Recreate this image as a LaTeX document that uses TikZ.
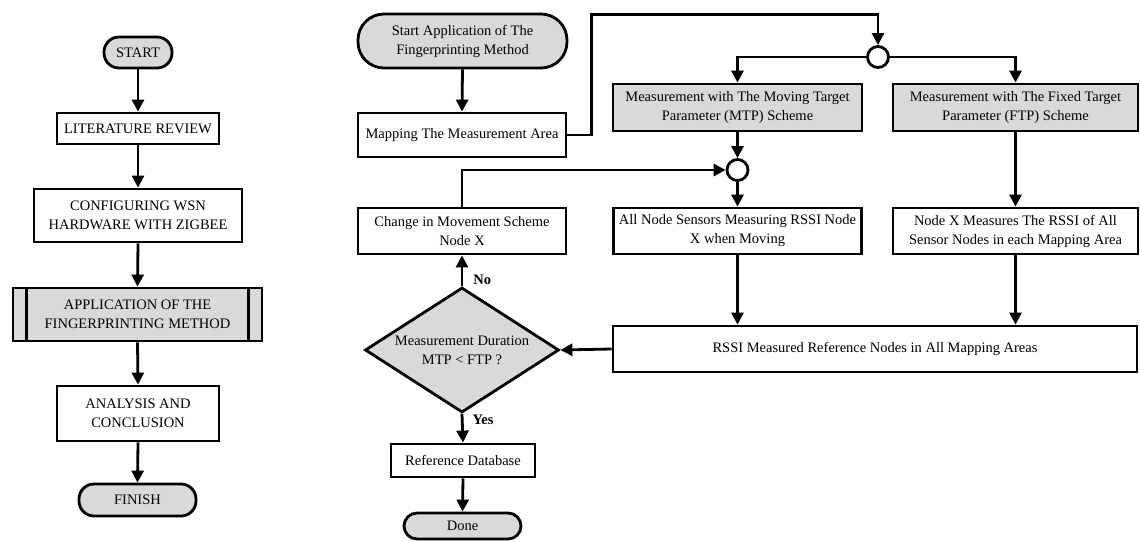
\documentclass[tikz,border=0pt]{standalone}
\usepackage{fontspec}
\setmainfont{Liberation Serif}
\usetikzlibrary{arrows.meta,shapes.geometric,calc}
\begin{document}
\begin{tikzpicture}[x=1pt,y=-1pt,
  every node/.style={font=\fontsize{14.5}{19}\selectfont, align=center, inner sep=0pt},
  proc/.style={draw, line width=2.8pt, fill=white, rectangle},
  procg/.style={proc, fill=gray!30},
  term/.style={draw, line width=2.8pt, fill=gray!30, rounded corners=15pt},
  junc/.style={draw, circle, line width=2.8pt, fill=white, minimum size=21pt},
  conn/.style={line width=2.8pt},
  flow/.style={line width=2.8pt, -{Triangle[length=12pt,width=12pt]}},
  lbl/.style={font=\fontsize{14.5}{17}\selectfont\bfseries}]
\useasboundingbox (0,0) rectangle (1140,541);
% left column
\node[term, minimum width=68pt, minimum height=31pt] (start) at (138,52.5) {START};
\node[proc, minimum width=162pt, minimum height=31pt] (lit) at (138,128.5) {LITERATURE REVIEW};
\node[proc, minimum width=208pt, minimum height=53pt] (conf) at (138,215.5) {CONFIGURING WSN\\HARDWARE WITH ZIGBEE};
\node[procg, minimum width=249pt, minimum height=53pt] (app) at (137.5,314.5) {APPLICATION OF THE\\FINGERPRINTING METHOD};
\draw[conn] ($(app.north west)+(15,0)$) -- ($(app.south west)+(15,0)$);
\draw[conn] ($(app.north east)+(-15,0)$) -- ($(app.south east)+(-15,0)$);
\node[proc, minimum width=162pt, minimum height=55pt] (anal) at (138,413.5) {ANALYSIS AND\\CONCLUSION};
\node[term, minimum width=117pt, minimum height=32pt] (finish) at (137.5,500) {FINISH};
\draw[flow] (start.south) -- (lit.north);
\draw[flow] (lit.south) -- (conf.north);
\draw[flow] (conf.south) -- (app.north);
\draw[flow] (app.south) -- (anal.north);
\draw[flow] (anal.south) -- (finish.north);
% right part
\node[term, rounded corners=26pt, minimum width=209pt, minimum height=54pt] (sa) at (462.5,41) {Start Application of The\\Fingerprinting Method};
\node[proc, minimum width=208pt, minimum height=44pt] (map) at (462,135) {Mapping The Measurement Area};
\node[junc] (j1) at (878,57) {};
\node[procg, minimum width=249pt, minimum height=47pt] (mtp) at (737.5,107.5) {Measurement with The Moving Target\\Parameter (MTP) Scheme};
\node[procg, minimum width=245pt, minimum height=47pt] (ftp) at (1015.5,107.5) {Measurement with The Fixed Target\\Parameter (FTP) Scheme};
\node[junc] (j2) at (737.5,170) {};
\node[proc, minimum width=208pt, minimum height=46pt] (chg) at (462,231) {Change in Movement Scheme\\Node X};
\node[proc, minimum width=248pt, minimum height=46pt] (alln) at (737.5,231) {All Node Sensors Measuring RSSI Node\\X when Moving};
\node[proc, minimum width=245pt, minimum height=46pt] (nodex) at (1015.5,231) {Node X Measures The RSSI of All\\Sensor Nodes in each Mapping Area};
\node[proc, minimum width=524pt, minimum height=46pt] (rssi) at (875,349) {RSSI Measured Reference Nodes in All Mapping Areas};
\node[diamond, draw, fill=gray!30, line width=2.8pt, aspect=1.54, minimum width=194pt, minimum height=125pt] (dec) at (462,350) {Measurement Duration\\MTP {\textless} FTP ?};
\node[proc, minimum width=144pt, minimum height=33pt] (ref) at (463,460.5) {Reference Database};
\node[term, rounded corners=13pt, minimum width=117pt, minimum height=26pt] (done) at (462.5,526) {Done};
\draw[flow] (sa.south) -- (map.north);
\draw[flow] (map.east) -- ++(24,0) |- ($(j1.north)+(0,-31)$) -- (j1.north);
\draw[flow] (j1.west) -| (mtp.north);
\draw[flow] (j1.east) -| (ftp.north);
\draw[flow] (mtp.south) -- (j2.north);
\draw[flow] (chg.north) |- (j2.west);
\draw[flow] (j2.south) -- (alln.north);
\draw[flow] (ftp.south) -- (nodex.north);
\draw[flow] (alln.south) -- (alln.south |- rssi.north);
\draw[flow] (nodex.south) -- (nodex.south |- rssi.north);
\draw[flow] (rssi.west) -- (dec.east);
\draw[flow] (dec.north) -- node[lbl, pos=0.2, right=10pt] {No} (chg.south);
\draw[flow] (dec.south) -- node[lbl, pos=0.2, right=9pt] {Yes} (ref.north);
\draw[flow] (ref.south) -- (done.north);
\end{tikzpicture}
\end{document}
